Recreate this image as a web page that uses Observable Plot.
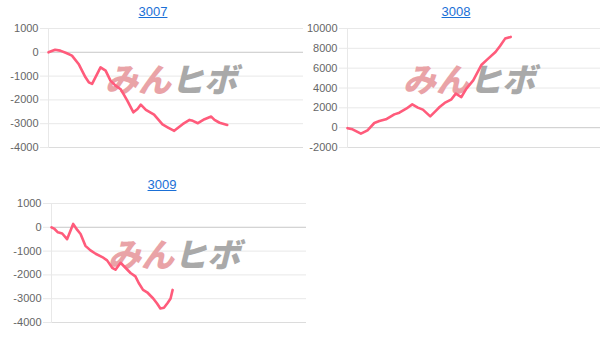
<!DOCTYPE html>
<html>
<head>
<meta charset="utf-8">
<script src="https://cdn.jsdelivr.net/npm/d3@7"></script>
<script src="https://cdn.jsdelivr.net/npm/@observablehq/plot@0.6"></script>
<style>
  html, body { margin: 0; padding: 0; background: #fff; }
  #root { position: relative; width: 612px; height: 343px; overflow: hidden; font-family: "Liberation Sans", Arial, sans-serif; }
  .panel { position: absolute; }
  .title { position: absolute; font-size: 13px; color: #1a6fd6; text-decoration: underline; transform: translateX(-50%); white-space: nowrap; }
  svg { display: block; }
</style>
</head>
<body>
<div id="root"></div>
<script>
// ---- data (x = day position within the period, y = profit) ----
const codes = ["3007", "3008", "3009"];

const x3007 = [0, 2.6, 4.6, 7.2, 9.2, 11.8, 14.5, 15.8, 17.1, 20.4, 22.4, 24.3, 26.3, 28.3, 30.9, 33.3, 34.9, 36.2, 38.2, 41.4, 44.7, 46.7, 49.3, 52.6, 55.3, 56.6, 58.6, 61.2, 63.8, 65.1, 67.1, 70.1];
const y3007 = [0, 110, 70, -40, -140, -490, -1050, -1260, -1330, -630, -770, -1190, -1400, -1550, -2030, -2520, -2380, -2200, -2420, -2620, -3030, -3150, -3300, -3020, -2840, -2880, -2980, -2810, -2700, -2840, -2960, -3050];

const x3008 = [0, 2, 5.3, 7.9, 10.6, 12.6, 15.2, 18.5, 20.5, 23.2, 25.6, 27.8, 29.8, 32.7, 35.1, 36.4, 38.4, 41.1, 42.8, 45, 47, 49.7, 53, 55.6, 58.5, 60.3, 62.3, 64.5];
const y3008 = [-50, -170, -600, -270, 470, 670, 840, 1340, 1510, 1910, 2350, 2020, 1820, 1140, 1750, 2080, 2490, 2860, 3430, 3090, 3930, 4770, 6350, 6960, 7630, 8240, 8980, 9150];

const x3009 = [0, 1.2, 2.5, 4.2, 6.1, 8.5, 10.1, 11.4, 13.3, 15.3, 17.3, 19.9, 21.8, 23.8, 25.1, 27.1, 29, 31, 32.9, 34.2, 35.9, 37.5, 39.9, 41.4, 42.7, 44.1, 45.6, 46.7, 47.5];
const y3009 = [0, -70, -210, -260, -500, 140, -110, -280, -780, -970, -1110, -1250, -1390, -1700, -1780, -1490, -1700, -1920, -2060, -2340, -2630, -2730, -2990, -3200, -3410, -3380, -3170, -2990, -2630];

const ticks3007 = [1000, 0, -1000, -2000, -3000, -4000];
const ticks3008 = [10000, 8000, 6000, 4000, 2000, 0, -2000];
const ticks3009 = [1000, 0, -1000, -2000, -3000, -4000];

const watermarkA = "みん";
const watermarkB = "ヒボ";

// ---- rendering ----
const root = document.getElementById("root");

function panel(cfg) {
  const data = cfg.xs.map((x, i) => ({x, y: cfg.ys[i]}));
  const t = document.createElement("div");
  t.className = "title";
  t.textContent = cfg.code;
  t.style.left = cfg.titleX + "px";
  t.style.top = cfg.titleY + "px";
  root.appendChild(t);

  const yMin = d3.min(cfg.ticks), yMax = d3.max(cfg.ticks);
  const wm = {frameAnchor: "middle", dy: -7, fontSize: 33, fontWeight: 900, fontStyle: "italic", fontFamily: "'Noto Sans CJK JP', sans-serif"};
  const chart = Plot.plot({
    width: cfg.width,
    height: 140,
    marginTop: 8,
    marginBottom: 13,
    marginLeft: cfg.marginLeft,
    marginRight: cfg.marginRight,
    style: {fontFamily: "'Liberation Sans', Arial, sans-serif", fontSize: "11px", color: "#666", background: "#fff"},
    x: {domain: [0, 100], axis: null},
    y: {domain: [yMin, yMax], axis: null},
    marks: [
      Plot.gridY(cfg.ticks, {stroke: "#e8e8e8", strokeOpacity: 1}),
      Plot.axisY(cfg.ticks, {tickSize: 8, tickPadding: 2, stroke: "#e8e8e8", strokeOpacity: 1, fill: "#666", tickFormat: d => String(d), fontSize: 11, label: null}),
      Plot.ruleY([0], {stroke: "#cfcfcf"}),
      Plot.ruleY([yMin], {stroke: "#dcdcdc"}),
      Plot.frame({anchor: "left", stroke: "#e8e8e8"}),
      Plot.text([watermarkA], {...wm, text: d => d, textAnchor: "end", dx: -5, fill: "#e9a3a7"}),
      Plot.text([watermarkB], {...wm, text: d => d, textAnchor: "start", dx: -5, fill: "#a9a9a9"}),
      Plot.line(data, {x: "x", y: "y", stroke: "#ff5b7b", strokeWidth: 2.6, strokeLinejoin: "round", strokeLinecap: "round"})
    ]
  });
  const wrap = document.createElement("div");
  wrap.className = "panel";
  wrap.style.left = cfg.left + "px";
  wrap.style.top = cfg.top + "px";
  wrap.appendChild(chart);
  root.appendChild(wrap);
}

panel({code: codes[0], xs: x3007, ys: y3007, ticks: ticks3007, left: 0, top: 20, width: 306, marginLeft: 48, marginRight: 3, titleX: 153, titleY: 4});
panel({code: codes[1], xs: x3008, ys: y3008, ticks: ticks3008, left: 306, top: 20, width: 300, marginLeft: 41, marginRight: 6, titleX: 456, titleY: 4});
panel({code: codes[2], xs: x3009, ys: y3009, ticks: ticks3009, left: 0, top: 195, width: 306, marginLeft: 51, marginRight: 0, titleX: 162, titleY: 177});
</script>
</body>
</html>
